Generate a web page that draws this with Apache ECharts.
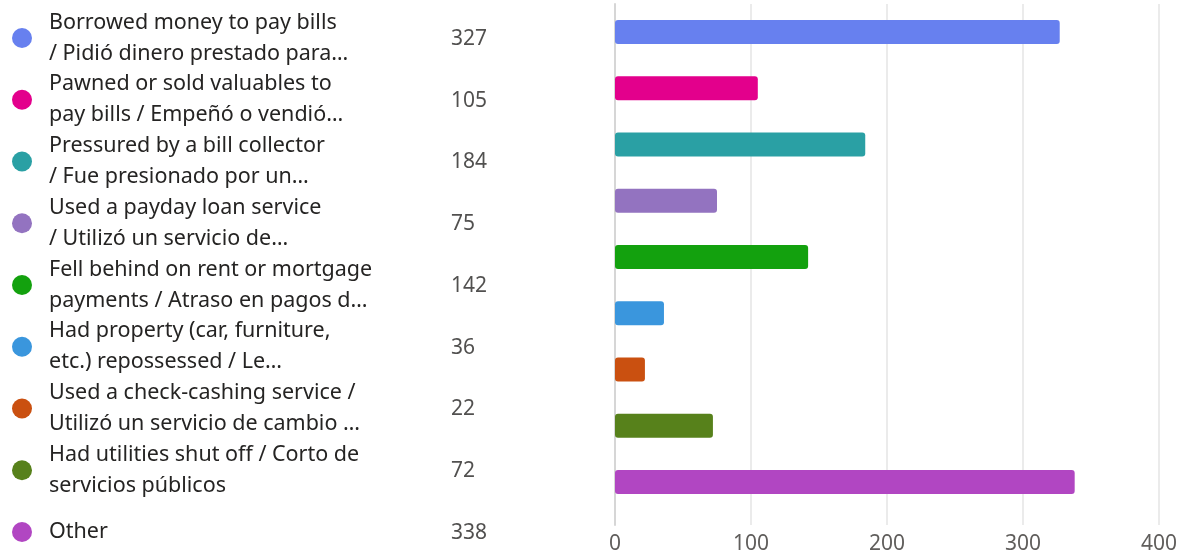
<!DOCTYPE html>
<html>
<head>
<meta charset="utf-8">
<script src="https://cdn.jsdelivr.net/npm/echarts@6/dist/echarts.min.js"></script>
<style>html,body{margin:0;padding:0;background:#fff;}#c{width:1186px;height:555px;}</style>
</head>
<body>
<div id="c"></div>
<script>
const legendLabels = [
  "Borrowed money to pay bills\n/ Pidió dinero prestado para…",
  "Pawned or sold valuables to\npay bills / Empeñó o vendió…",
  "Pressured by a bill collector\n/ Fue presionado por un…",
  "Used a payday loan service\n/ Utilizó un servicio de…",
  "Fell behind on rent or mortgage\npayments / Atraso en pagos d…",
  "Had property (car, furniture,\netc.) repossessed / Le…",
  "Used a check-cashing service /\nUtilizó un servicio de cambio …",
  "Had utilities shut off / Corto de\nservicios públicos",
  "Other"
];
const values = [327, 105, 184, 75, 142, 36, 22, 72, 338];
const colors = ["#6780ef", "#e3008c", "#2aa0a4", "#9373c0", "#13a10e", "#3a96dd", "#ca5010", "#57811b", "#b146c2"];
const xTicks = [0, 100, 200, 300, 400];

const FONT = "'Noto Sans', 'Open Sans', sans-serif";
const TEXT = '#252423';
const idx = values.map((v, i) => i);
const xMin = xTicks[0], xMax = xTicks[xTicks.length - 1];

const chart = echarts.init(document.getElementById('c'), null, {renderer: 'canvas'});
chart.setOption({
  animation: false,
  grid: [
    {left: 615, right: 27, top: 4, height: 506},
    {left: 0, top: 38, width: 500, height: 494},
    {left: 615, right: 27, top: 4, height: 521}
  ],
  xAxis: [
    {type: 'value', gridIndex: 0, min: xMin, max: xMax, interval: 100, show: false},
    {type: 'value', gridIndex: 1, min: 0, max: 500, show: false},
    {
      type: 'value', gridIndex: 2,
      min: xMin, max: xMax, interval: 100,
      axisLine: {show: false}, axisTick: {show: false},
      axisLabel: {fontSize: 21, color: '#605e5c', margin: 9, fontFamily: FONT},
      splitLine: {lineStyle: {color: '#e4e4e4', width: 1.5}}
    }
  ],
  yAxis: [
    {
      type: 'category', gridIndex: 0, inverse: true, data: idx,
      axisLine: {show: false}, axisTick: {show: false}, axisLabel: {show: false}
    },
    {type: 'category', gridIndex: 1, inverse: true, data: idx, boundaryGap: false, show: false},
    {
      type: 'category', gridIndex: 2, data: idx,
      axisLine: {show: true, lineStyle: {color: '#d6d6d6', width: 2}},
      axisTick: {show: false}, axisLabel: {show: false}, splitLine: {show: false}
    }
  ],
  series: [
    {
      type: 'bar', xAxisIndex: 0, yAxisIndex: 0,
      barWidth: 24, z: 5,
      data: values.map((v, i) => ({value: v, itemStyle: {color: colors[i], borderRadius: 3}}))
    },
    {
      type: 'scatter', xAxisIndex: 1, yAxisIndex: 1, silent: true,
      symbolSize: 20,
      itemStyle: {opacity: 1},
      data: idx.map(i => ({value: [22, i], itemStyle: {color: colors[i], opacity: 1}})),
      label: {
        show: true, position: 'right', distance: 17,
        formatter: p => legendLabels[p.dataIndex],
        fontSize: 21.5, lineHeight: 31, color: TEXT, fontFamily: FONT
      }
    },
    {
      type: 'scatter', xAxisIndex: 1, yAxisIndex: 1, silent: true,
      symbolSize: 0,
      data: idx.map(i => [451, i]),
      label: {
        show: true, position: 'right', distance: 0, offset: [0, 1],
        formatter: p => String(values[p.dataIndex]),
        fontSize: 21, color: TEXT, fontFamily: FONT
      }
    }
  ]
});
</script>
</body>
</html>
